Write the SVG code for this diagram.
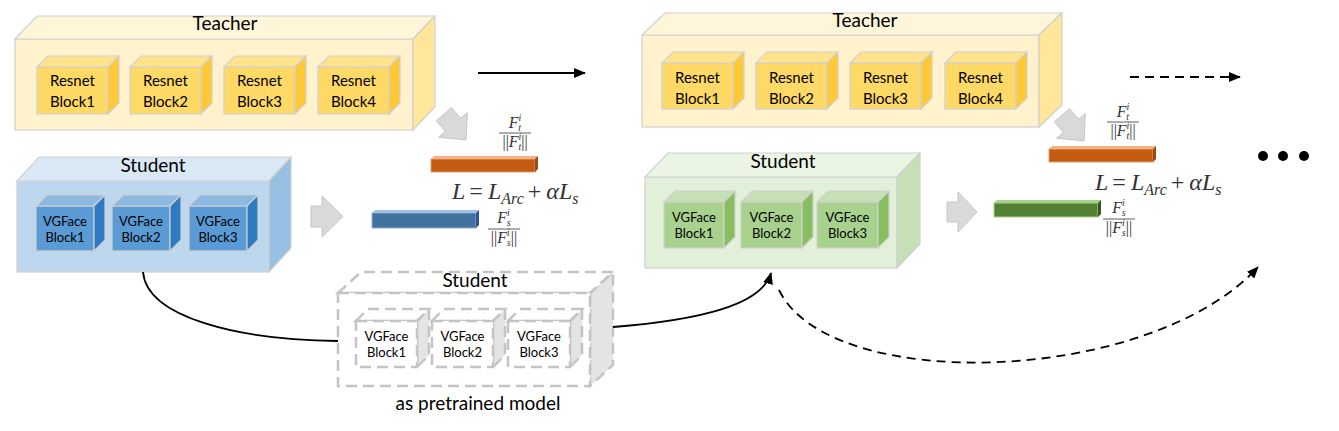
<svg xmlns="http://www.w3.org/2000/svg" width="1339" height="431" viewBox="0 0 1339 431">
<defs>
<style>
text{font-family:Lato,"Liberation Sans",sans-serif;fill:#000}
.lbl{font-size:19px;text-anchor:middle}
.blk{font-size:15px;text-anchor:middle}
.vg{font-size:13px;text-anchor:middle}
.frac{font-family:"Liberation Serif","DejaVu Serif",serif;font-size:16px;text-anchor:middle;fill:#333}
.sup{font-size:10px;font-style:italic}
.it{font-style:italic}
.loss{font-family:"Liberation Serif","DejaVu Serif",serif;font-size:24px;fill:#333}
.edge{stroke:#D0D0D0;stroke-width:1.2}
.tF{fill:#FFF2CC}.tT{fill:#FFF6DA}.tR{fill:#FFE699}
.rF{fill:#FFD966}.rT{fill:#FFE38A}.rR{fill:#FFC935}
.sF{fill:#BDD7EE}.sT{fill:#DAE8F5}.sR{fill:#98C0E4}
.bF{fill:#5B9BD5}.bT{fill:#8DB8E2}.bR{fill:#2E7BC4}
.gF{fill:#E2F0D9}.gT{fill:#EBF5E4}.gR{fill:#C5E0B4}
.kF{fill:#A9D18E}.kT{fill:#C5E0B4}.kR{fill:#86BE60}
.dsh{fill:#fff;stroke:#C4C4C4;stroke-width:2.5;stroke-dasharray:11 6}
.dshR{fill:#E4E4E4;stroke:#C4C4C4;stroke-width:2.5;stroke-dasharray:11 6}
.garrow{fill:#D9D9D9;stroke:#C6C6C6;stroke-width:1}
.conn{fill:none;stroke:#000;stroke-width:1.8}
.dash{stroke-dasharray:9 6}
</style>
<marker id="ah" viewBox="0 0 12 10" refX="11" refY="5" markerWidth="12" markerHeight="10" markerUnits="userSpaceOnUse" orient="auto">
<path d="M0,0 L12,5 L0,10 z" fill="#000"/>
</marker>
</defs>
<rect width="1339" height="431" fill="#fff"/>

<!-- Teacher 1 -->
<g id="teacher1">
<rect class="tF edge" x="15" y="39" width="398" height="91"/>
<polygon class="tT edge" points="15,39 37,16 435,16 413,39"/>
<polygon class="tR edge" points="413,39 435,16 435,107 413,130"/>
<text class="lbl" x="225" y="30">Teacher</text>
</g>
<g id="t1-block1">
<rect class="rF edge" x="37" y="67" width="71" height="47"/>
<polygon class="rT edge" points="37,67 48,56 119,56 108,67"/>
<polygon class="rR edge" points="108,67 119,56 119,103 108,114"/>
<text class="blk" x="72.5" y="86">Resnet</text><text class="blk" x="72.5" y="107">Block1</text>
</g>
<g id="t1-block2">
<rect class="rF edge" x="130" y="67" width="71" height="47"/>
<polygon class="rT edge" points="130,67 141,56 212,56 201,67"/>
<polygon class="rR edge" points="201,67 212,56 212,103 201,114"/>
<text class="blk" x="165.5" y="86">Resnet</text><text class="blk" x="165.5" y="107">Block2</text>
</g>
<g id="t1-block3">
<rect class="rF edge" x="224" y="67" width="71" height="47"/>
<polygon class="rT edge" points="224,67 235,56 306,56 295,67"/>
<polygon class="rR edge" points="295,67 306,56 306,103 295,114"/>
<text class="blk" x="259.5" y="86">Resnet</text><text class="blk" x="259.5" y="107">Block3</text>
</g>
<g id="t1-block4">
<rect class="rF edge" x="318" y="67" width="71" height="47"/>
<polygon class="rT edge" points="318,67 329,56 400,56 389,67"/>
<polygon class="rR edge" points="389,67 400,56 400,103 389,114"/>
<text class="blk" x="353.5" y="86">Resnet</text><text class="blk" x="353.5" y="107">Block4</text>
</g>

<!-- Student 1 -->
<g id="student1">
<rect class="sF edge" x="17" y="181" width="252" height="91"/>
<polygon class="sT edge" points="17,181 39,157 291,157 269,181"/>
<polygon class="sR edge" points="269,181 291,157 291,248 269,272"/>
<text class="lbl" x="153" y="172">Student</text>
</g>
<g id="s1-block1">
<rect class="bF edge" x="36" y="206" width="58" height="45"/>
<polygon class="bT edge" points="36,206 47,195 105,195 94,206"/>
<polygon class="bR edge" points="94,206 105,195 105,240 94,251"/>
<text class="vg" x="65" y="226">VGFace</text><text class="vg" x="65" y="242">Block1</text>
</g>
<g id="s1-block2">
<rect class="bF edge" x="112" y="206" width="58" height="45"/>
<polygon class="bT edge" points="112,206 123,195 181,195 170,206"/>
<polygon class="bR edge" points="170,206 181,195 181,240 170,251"/>
<text class="vg" x="141" y="226">VGFace</text><text class="vg" x="141" y="242">Block2</text>
</g>
<g id="s1-block3">
<rect class="bF edge" x="189" y="206" width="58" height="45"/>
<polygon class="bT edge" points="189,206 200,195 258,195 247,206"/>
<polygon class="bR edge" points="247,206 258,195 258,240 247,251"/>
<text class="vg" x="218" y="226">VGFace</text><text class="vg" x="218" y="242">Block3</text>
</g>

<!-- Pretrained dashed student -->
<g id="pretrained">
<polygon class="dshR" points="590,293 613,272 613,365 590,386"/>
<polygon class="dsh" points="338,293 361,272 613,272 590,293"/>
<rect class="dsh" x="338" y="293" width="252" height="93"/>
<text class="lbl" x="475" y="287">Student</text>
<text x="478" y="410" style="font-size:19px;text-anchor:middle">as pretrained model</text>
</g>
<g id="p-block1">
<polygon class="dshR" points="417,321 429,309 429,355 417,367"/>
<polygon class="dsh" points="356,321 368,309 429,309 417,321"/>
<rect class="dsh" x="356" y="321" width="61" height="46"/>
<text class="vg" x="386.5" y="341">VGFace</text><text class="vg" x="386.5" y="357">Block1</text>
</g>
<g id="p-block2">
<polygon class="dshR" points="493,321 505,309 505,355 493,367"/>
<polygon class="dsh" points="432,321 444,309 505,309 493,321"/>
<rect class="dsh" x="432" y="321" width="61" height="46"/>
<text class="vg" x="462.5" y="341">VGFace</text><text class="vg" x="462.5" y="357">Block2</text>
</g>
<g id="p-block3">
<polygon class="dshR" points="570,321 582,309 582,355 570,367"/>
<polygon class="dsh" points="508,321 520,309 582,309 570,321"/>
<rect class="dsh" x="508" y="321" width="62" height="46"/>
<text class="vg" x="539" y="341">VGFace</text><text class="vg" x="539" y="357">Block3</text>
</g>

<!-- Stage 1 features -->
<g id="arrow-t1">
<polygon class="garrow" points="451.5,107.7 460.6,118.3 467.4,112.5 466,140 438.6,137.2 445.4,131.3 436.3,120.7"/>
</g>
<g id="arrow-s1">
<polygon class="garrow" points="311,206 322,206 322,196 343,216.5 322,237 322,227 311,227"/>
</g>
<g id="feat-t1">
<rect x="431" y="159" width="104" height="13" fill="#C55A11" stroke="#D9A07A" stroke-width="1"/>
<polygon points="431,159 434,156 538,156 535,159" fill="#F4B183"/>
<polygon points="535,159 538,156 538,169 535,172" fill="#9A4A10"/>
</g>
<g id="feat-s1">
<rect x="372" y="213" width="104" height="15" fill="#41719C" stroke="#8FAADC" stroke-width="1"/>
<polygon points="372,213 375,210 479,210 476,213" fill="#9DC3E6"/>
<polygon points="476,213 479,210 479,225 476,228" fill="#2F5597"/>
</g>
<g id="frac-t1">
<text class="frac" x="515" y="128"><tspan class="it">F</tspan><tspan class="sup" dy="-7">i</tspan><tspan class="sup" dx="-3" dy="10">t</tspan></text>
<line x1="499" y1="133" x2="531" y2="133" stroke="#333" stroke-width="0.8"/>
<text class="frac" x="515" y="147">||<tspan class="it">F</tspan><tspan class="sup" dy="-7">i</tspan><tspan class="sup" dx="-3" dy="10">t</tspan><tspan dy="-3">||</tspan></text>
</g>
<g id="frac-s1">
<text class="frac" x="504" y="223"><tspan class="it">F</tspan><tspan class="sup" dy="-7">i</tspan><tspan class="sup" dx="-3" dy="10">s</tspan></text>
<line x1="488" y1="229" x2="520" y2="229" stroke="#333" stroke-width="0.8"/>
<text class="frac" x="504" y="243">||<tspan class="it">F</tspan><tspan class="sup" dy="-7">i</tspan><tspan class="sup" dx="-3" dy="10">s</tspan><tspan dy="-3">||</tspan></text>
</g>
<g id="loss1">
<text class="loss" x="452" y="199"><tspan class="it">L</tspan><tspan dx="4">=</tspan><tspan class="it" dx="5">L</tspan><tspan class="it" font-size="16" dy="5">Arc</tspan><tspan dy="-5" dx="4">+</tspan><tspan class="it" dx="5">αL</tspan><tspan class="it" font-size="16" dy="5">s</tspan></text>
</g>

<!-- Teacher 2 -->
<g id="teacher2">
<rect class="tF edge" x="642" y="35" width="397" height="92"/>
<polygon class="tT edge" points="642,35 665,13 1062,13 1039,35"/>
<polygon class="tR edge" points="1039,35 1062,13 1062,105 1039,127"/>
<text class="lbl" x="865" y="27">Teacher</text>
</g>
<g id="t2-block1">
<rect class="rF edge" x="662" y="63" width="71" height="46"/>
<polygon class="rT edge" points="662,63 673,52 744,52 733,63"/>
<polygon class="rR edge" points="733,63 744,52 744,98 733,109"/>
<text class="blk" x="697.5" y="83">Resnet</text><text class="blk" x="697.5" y="104">Block1</text>
</g>
<g id="t2-block2">
<rect class="rF edge" x="756" y="63" width="71" height="46"/>
<polygon class="rT edge" points="756,63 767,52 838,52 827,63"/>
<polygon class="rR edge" points="827,63 838,52 838,98 827,109"/>
<text class="blk" x="791.5" y="83">Resnet</text><text class="blk" x="791.5" y="104">Block2</text>
</g>
<g id="t2-block3">
<rect class="rF edge" x="850" y="63" width="71" height="46"/>
<polygon class="rT edge" points="850,63 861,52 932,52 921,63"/>
<polygon class="rR edge" points="921,63 932,52 932,98 921,109"/>
<text class="blk" x="885.5" y="83">Resnet</text><text class="blk" x="885.5" y="104">Block3</text>
</g>
<g id="t2-block4">
<rect class="rF edge" x="945" y="63" width="71" height="46"/>
<polygon class="rT edge" points="945,63 956,52 1027,52 1016,63"/>
<polygon class="rR edge" points="1016,63 1027,52 1027,98 1016,109"/>
<text class="blk" x="980.5" y="83">Resnet</text><text class="blk" x="980.5" y="104">Block4</text>
</g>

<!-- Student 2 (green) -->
<g id="student2">
<rect class="gF edge" x="645" y="177" width="252" height="91"/>
<polygon class="gT edge" points="645,177 668,153 920,153 897,177"/>
<polygon class="gR edge" points="897,177 920,153 920,244 897,268"/>
<text class="lbl" x="783" y="168">Student</text>
</g>
<g id="s2-block1">
<rect class="kF edge" x="664" y="202" width="60" height="46"/>
<polygon class="kT edge" points="664,202 675,191 735,191 724,202"/>
<polygon class="kR edge" points="724,202 735,191 735,237 724,248"/>
<text class="vg" x="694" y="222">VGFace</text><text class="vg" x="694" y="238">Block1</text>
</g>
<g id="s2-block2">
<rect class="kF edge" x="741" y="202" width="61" height="46"/>
<polygon class="kT edge" points="741,202 752,191 813,191 802,202"/>
<polygon class="kR edge" points="802,202 813,191 813,237 802,248"/>
<text class="vg" x="771.5" y="222">VGFace</text><text class="vg" x="771.5" y="238">Block2</text>
</g>
<g id="s2-block3">
<rect class="kF edge" x="817" y="202" width="61" height="46"/>
<polygon class="kT edge" points="817,202 828,191 889,191 878,202"/>
<polygon class="kR edge" points="878,202 889,191 889,237 878,248"/>
<text class="vg" x="847.5" y="222">VGFace</text><text class="vg" x="847.5" y="238">Block3</text>
</g>

<!-- Stage 2 features -->
<g id="arrow-t2">
<polygon class="garrow" points="1069.5,108.7 1078.6,119.3 1085.4,113.5 1084,141 1056.6,138.2 1063.4,132.3 1054.3,121.7"/>
</g>
<g id="arrow-s2">
<polygon class="garrow" points="947,202 958,202 958,192 977,212 958,232 958,222 947,222"/>
</g>
<g id="feat-t2">
<rect x="1049" y="149" width="104" height="13" fill="#C55A11" stroke="#D9A07A" stroke-width="1"/>
<polygon points="1049,149 1052,146 1156,146 1153,149" fill="#F4B183"/>
<polygon points="1153,149 1156,146 1156,159 1153,162" fill="#9A4A10"/>
</g>
<g id="feat-s2">
<rect x="994" y="203" width="104" height="14" fill="#548235" stroke="#A9D18E" stroke-width="1"/>
<polygon points="994,203 997,200 1101,200 1098,203" fill="#A9D18E"/>
<polygon points="1098,203 1101,200 1101,214 1098,217" fill="#385723"/>
</g>
<g id="frac-t2">
<text class="frac" x="1123" y="117"><tspan class="it">F</tspan><tspan class="sup" dy="-7">i</tspan><tspan class="sup" dx="-3" dy="10">t</tspan></text>
<line x1="1107" y1="122" x2="1139" y2="122" stroke="#333" stroke-width="0.8"/>
<text class="frac" x="1123" y="136">||<tspan class="it">F</tspan><tspan class="sup" dy="-7">i</tspan><tspan class="sup" dx="-3" dy="10">t</tspan><tspan dy="-3">||</tspan></text>
</g>
<g id="frac-s2">
<text class="frac" x="1119" y="213"><tspan class="it">F</tspan><tspan class="sup" dy="-7">i</tspan><tspan class="sup" dx="-3" dy="10">s</tspan></text>
<line x1="1103" y1="219" x2="1135" y2="219" stroke="#333" stroke-width="0.8"/>
<text class="frac" x="1119" y="233">||<tspan class="it">F</tspan><tspan class="sup" dy="-7">i</tspan><tspan class="sup" dx="-3" dy="10">s</tspan><tspan dy="-3">||</tspan></text>
</g>
<g id="loss2">
<text class="loss" x="1095" y="190"><tspan class="it">L</tspan><tspan dx="4">=</tspan><tspan class="it" dx="5">L</tspan><tspan class="it" font-size="16" dy="5">Arc</tspan><tspan dy="-5" dx="4">+</tspan><tspan class="it" dx="5">αL</tspan><tspan class="it" font-size="16" dy="5">s</tspan></text>
</g>
<g id="ellipsis">
<circle cx="1263" cy="156" r="5" fill="#000"/>
<circle cx="1283" cy="156" r="5" fill="#000"/>
<circle cx="1304" cy="156" r="5" fill="#000"/>
</g>

<!-- Connectors -->
<g id="connectors">
<line class="conn" x1="478" y1="73" x2="585" y2="73" marker-end="url(#ah)"/>
<line class="conn dash" x1="1130" y1="77" x2="1240" y2="77" marker-end="url(#ah)"/>
<path class="conn" d="M143,272 C147,318 240,340 338,341"/>
<path class="conn" d="M613,327 C700,320 762,305 771,273" marker-end="url(#ah)"/>
<path class="conn dash" d="M779,290 C830,395 1150,385 1258,267" marker-end="url(#ah)"/>
</g>
</svg>
